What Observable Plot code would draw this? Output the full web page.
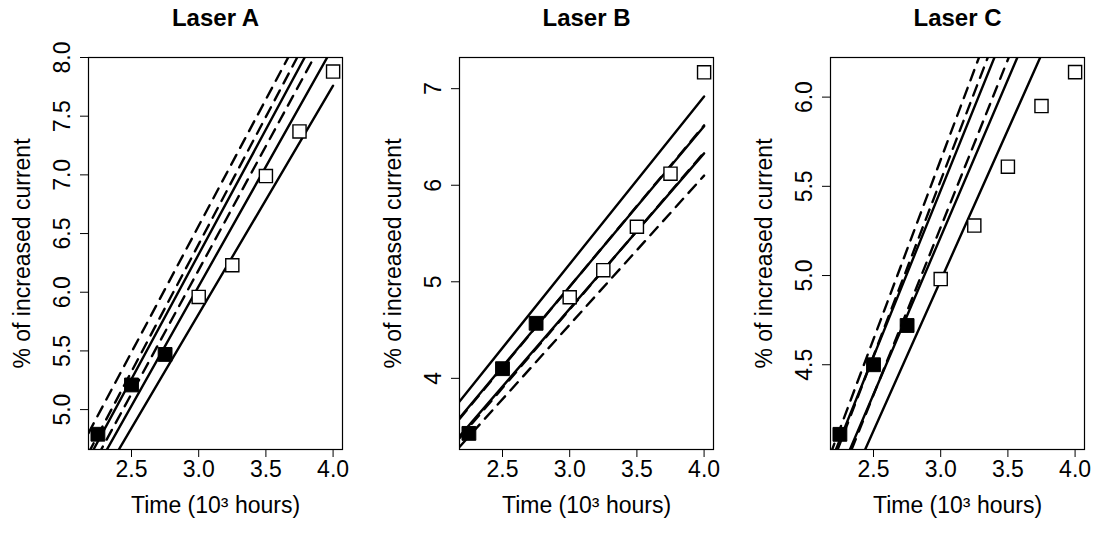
<!DOCTYPE html>
<html>
<head>
<meta charset="utf-8">
<script src="https://cdn.jsdelivr.net/npm/d3@7"></script>
<script src="https://cdn.jsdelivr.net/npm/@observablehq/plot@0.6"></script>
<style>
  html, body { margin: 0; padding: 0; background: #fff; overflow: hidden; }
  #wrap { position: relative; width: 1094px; height: 533px; }
  .panel { position: absolute; top: 0; }
</style>
</head>
<body>
<div id="wrap"></div>
<script>
// ---- data ----
const times = [2.25, 2.5, 2.75, 3.0, 3.25, 3.5, 3.75, 4.0];
const usedInFit = [true, true, true, false, false, false, false, false];

const laserA = [4.79, 5.21, 5.47, 5.96, 6.23, 6.99, 7.37, 7.88];
const laserB = [3.43, 4.10, 4.57, 4.84, 5.12, 5.57, 6.12, 7.17];
const laserC = [4.11, 4.50, 4.72, 4.98, 5.28, 5.61, 5.95, 6.14];

// each line: y at the left end and at the right end (x = lineX)
const lineX = [2.18, 4.0];
const solidA_start = [4.58, 4.38, 4.22];
const solidA_end   = [8.45, 8.09, 7.76];
const dashA_start  = [4.80, 4.63, 4.46];
const dashA_end    = [8.72, 8.58, 8.30];

const solidB_start = [3.76, 3.59, 3.40];
const solidB_end   = [6.92, 6.61, 6.33];
const dashB_start  = [3.58, 3.38, 3.29];
const dashB_end    = [6.62, 6.34, 6.10];

const solidC_start = [3.95, 3.77, 3.59];
const solidC_end   = [7.34, 6.98, 6.66];
const dashC_start  = [4.00, 3.92, 3.73];
const dashC_end    = [7.66, 7.50, 7.15];

const xTicks = [2.5, 3.0, 3.5, 4.0];
const yTicksA = [5.0, 5.5, 6.0, 6.5, 7.0, 7.5, 8.0];
const yTicksB = [4, 5, 6, 7];
const yTicksC = [4.5, 5.0, 5.5, 6.0];

const titles = ["Laser A", "Laser B", "Laser C"];
const xLabel = "Time (10³ hours)";
const yLabel = "% of increased current";

// ---- drawing ----
const FONT = "'Liberation Sans', Arial, Helvetica, sans-serif";

function lineRows(starts, ends) {
  const rows = [];
  starts.forEach((s, i) => {
    rows.push({x: lineX[0], y: s, id: i});
    rows.push({x: lineX[1], y: ends[i], id: i});
  });
  return rows;
}

function panel(cfg) {
  const pts = times.map((t, i) => ({x: t, y: cfg.values[i], used: usedInFit[i]}));
  return Plot.plot({
    width: 365,
    height: 533,
    marginLeft: cfg.mLeft,
    marginRight: cfg.mRight,
    marginTop: 57,
    marginBottom: 84,
    style: {fontFamily: FONT, fontSize: "23px", color: "black", background: "white"},
    x: {domain: [2.18, 4.07]},
    y: {domain: cfg.yDomain},
    marks: [
      Plot.line(lineRows(cfg.solidStart, cfg.solidEnd), {x: "x", y: "y", z: "id", stroke: "black", strokeWidth: 2.4, clip: true}),
      Plot.line(lineRows(cfg.dashStart, cfg.dashEnd), {x: "x", y: "y", z: "id", stroke: "black", strokeWidth: 2.4, strokeDasharray: "11,8", clip: true}),
      Plot.dot(pts.filter(d => d.used), {x: "x", y: "y", symbol: "square", r: 7.8, fill: "black", stroke: "black", strokeWidth: 1}),
      Plot.dot(pts.filter(d => !d.used), {x: "x", y: "y", symbol: "square", r: 7.4, fill: "white", stroke: "black", strokeWidth: 1.4}),
      Plot.frame({stroke: "black", strokeWidth: 1.2}),
      Plot.axisX({ticks: xTicks, tickFormat: d3.format(".1f"), tickSize: 8, tickPadding: 3, label: null, fontSize: 23, stroke: "black"}),
      Plot.axisY({ticks: cfg.yTicks, tickFormat: cfg.yFormat, tickSize: 8, tickRotate: -90, tickPadding: 11, label: null, fontSize: 23, stroke: "black"}),
      Plot.text([cfg.title], {frameAnchor: "top", dy: -39, textAnchor: "middle", lineAnchor: "middle", fontWeight: "bold", fontSize: 24}),
      Plot.text([xLabel], {frameAnchor: "bottom", dy: 56, textAnchor: "middle", lineAnchor: "middle", fontSize: 23}),
      Plot.text([yLabel], {frameAnchor: "left", dx: -66, rotate: -90, textAnchor: "middle", lineAnchor: "middle", fontSize: 23})
    ]
  });
}

const panels = [
  {title: titles[0], values: laserA, solidStart: solidA_start, solidEnd: solidA_end, dashStart: dashA_start, dashEnd: dashA_end,
   yDomain: [4.66, 8.0], yTicks: yTicksA, yFormat: d3.format(".1f"), mLeft: 88, mRight: 23, left: 0},
  {title: titles[1], values: laserB, solidStart: solidB_start, solidEnd: solidB_end, dashStart: dashB_start, dashEnd: dashB_end,
   yDomain: [3.263, 7.323], yTicks: yTicksB, yFormat: d3.format("d"), mLeft: 94, mRight: 17, left: 365},
  {title: titles[2], values: laserC, solidStart: solidC_start, solidEnd: solidC_end, dashStart: dashC_start, dashEnd: dashC_end,
   yDomain: [4.025, 6.222], yTicks: yTicksC, yFormat: d3.format(".1f"), mLeft: 101, mRight: 10, left: 729}
];

const wrap = document.getElementById("wrap");
for (const cfg of panels) {
  const div = document.createElement("div");
  div.className = "panel";
  div.style.left = cfg.left + "px";
  div.appendChild(panel(cfg));
  wrap.appendChild(div);
}
</script>
</body>
</html>
